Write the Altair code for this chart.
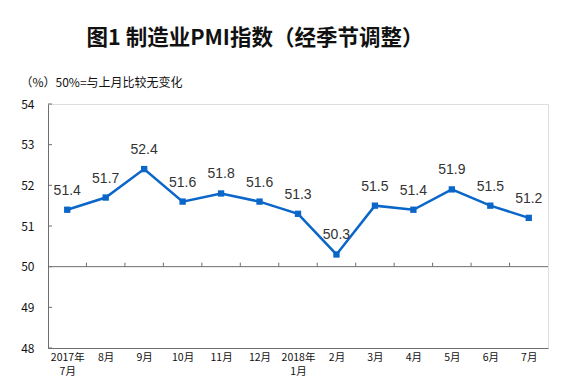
import json
import altair as alt
import pandas as pd

# ---- data ----
months = ["2017年\n7月", "8月", "9月", "10月", "11月", "12月", "2018年\n1月",
          "2月", "3月", "4月", "5月", "6月", "7月"]
pmi = [51.4, 51.7, 52.4, 51.6, 51.8, 51.6, 51.3, 50.3, 51.5, 51.4, 51.9, 51.5, 51.2]
y_ticks = [48, 49, 50, 51, 52, 53, 54]
baseline = 50

title_text = "图1 制造业PMI指数（经季节调整）"
unit_text = "（%）50%=与上月比较无变化"

n = len(months)
pos = [i + 0.5 for i in range(n)]
df = pd.DataFrame({"pos": pos, "pmi": pmi, "label": [f"{v:.1f}" for v in pmi]})
df_bound = pd.DataFrame({"b": list(range(1, n)), "y": [baseline] * (n - 1)})
df_base = pd.DataFrame({"y": [baseline]})
df_yt = pd.DataFrame({"t": y_ticks})

label_arrays = [m.split("\n") for m in months]
label_expr = f"{json.dumps(label_arrays, ensure_ascii=False)}[floor(datum.value)]"

BLUE = "#0A66C8"
AXIS = "#6E6E6E"
CJK = "Noto Sans CJK SC"

xscale = alt.Scale(domain=[0, n], nice=False, zero=False)
yscale = alt.Scale(domain=[y_ticks[0], y_ticks[-1]], nice=False, zero=False)

x_enc = alt.X("pos:Q", scale=xscale,
              axis=alt.Axis(values=pos, labelExpr=label_expr, title=None, grid=False,
                            ticks=False, domain=True, domainColor=AXIS, labelPadding=4,
                            labelFont=CJK, labelFontSize=10.5, labelColor="#111",
                            labelLineHeight=14.5, labelOverlap=False, labelBound=False,
                            labelFlush=False))
y_enc = alt.Y("pmi:Q", scale=yscale,
              axis=alt.Axis(values=y_ticks, title=unit_text, grid=False, ticks=False,
                            domain=True, domainColor=AXIS, labelPadding=14,
                            labelFont=CJK, labelFontSize=12, labelColor="#111",
                            titleAngle=0, titleAlign="left", titleBaseline="middle",
                            titleX=-28, titleY=-22, titleFont=CJK, titleFontSize=12,
                            titleFontWeight="normal", titleColor="#111"))

base = alt.Chart(df)

line = base.mark_line(color=BLUE, strokeWidth=2.5).encode(x=x_enc, y=y_enc)
pts = base.mark_square(color=BLUE, size=40, opacity=1).encode(x="pos:Q", y="pmi:Q")
txt = base.mark_text(dy=-19, fontSize=14, font="Liberation Sans", color="#333").encode(
    x="pos:Q", y="pmi:Q", text="label:N")

base_rule = alt.Chart(df_base).mark_rule(color=AXIS, strokeWidth=1).encode(y="y:Q")
bound_ticks = alt.Chart(df_bound).mark_rule(color=AXIS, strokeWidth=1, y2Offset=-4).encode(
    x="b:Q", y="y:Q", y2="y:Q")
y_inner_ticks = alt.Chart(df_yt).mark_rule(color=AXIS, strokeWidth=1, x2Offset=4).encode(
    y="t:Q", x=alt.value(0), x2=alt.value(0))

chart = alt.layer(base_rule, bound_ticks, y_inner_ticks, line, pts, txt).properties(
    width=500, height=244,
    autosize=alt.AutoSizeParams(type="none"),
    padding={"left": 40, "top": 96, "right": 23, "bottom": 31},
    title=alt.TitleParams(title_text, font=CJK, fontSize=21.5, fontWeight="bold",
                          anchor="middle", frame="group", dx=-43, offset=27, color="#111"),
).configure_view(stroke="#9A9A9A", strokeWidth=1).configure(background="white")

chart.save("out.html", embed_options={"renderer": "svg", "actions": False})
